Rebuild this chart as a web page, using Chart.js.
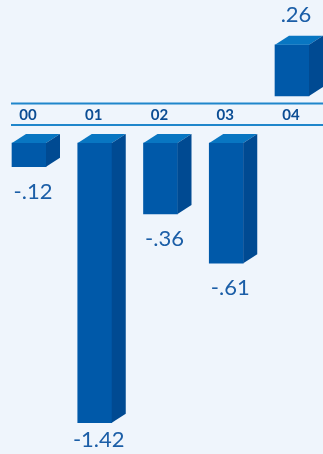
<!DOCTYPE html>
<html>
<head>
<meta charset="utf-8">
<script src="https://cdn.jsdelivr.net/npm/chart.js@4/dist/chart.umd.min.js"></script>
<style>
  html, body { margin: 0; padding: 0; background: #eff5fc; }
  canvas { display: block; }
</style>
</head>
<body>
<canvas id="chart" width="323" height="454"></canvas>
<script>
// Dados do gráfico
const categories = ['00', '01', '02', '03', '04'];
const values = [-0.12, -1.42, -0.36, -0.61, 0.26];
const valueLabels = ['-.12', '-1.42', '-.36', '-.61', '.26'];

// Separa positivos e negativos (eixo quebrado)
const positives = values.map(v => v >= 0 ? v : null);
const negatives = values.map(v => v < 0 ? v : null);

const DEPTH_X = 14;
const DEPTH_Y = 9;

// Plugin que desenha as faces 3D, as linhas e os textos
const cubePlugin = {
    id: 'cubes',
    beforeDatasetsDraw(chart) {
        const ctx = chart.ctx;
        const yPos = chart.scales.yPos;
        const yNeg = chart.scales.yNeg;
        const xs = chart.scales.x;
        const line1 = yPos.getPixelForValue(0) + 7.5;
        const line2 = yNeg.getPixelForValue(0) - 18;
        ctx.save();
        ctx.strokeStyle = '#1f86cb';
        ctx.lineWidth = 2;
        [line1, line2].forEach(y => {
            ctx.beginPath();
            ctx.moveTo(11, y);
            ctx.lineTo(chart.width, y);
            ctx.stroke();
        });
        // rótulos das categorias
        ctx.fillStyle = '#0b4d94';
        ctx.font = 'bold 15px Lato';
        ctx.textAlign = 'center';
        ctx.textBaseline = 'alphabetic';
        categories.forEach((c, i) => {
            ctx.fillText(c, xs.getPixelForValue(i) - 1, line2 - 5);
        });
        ctx.restore();
    },
    afterDatasetsDraw(chart) {
        const ctx = chart.ctx;
        ctx.save();
        chart.data.datasets.forEach((ds, di) => {
            const meta = chart.getDatasetMeta(di);
            meta.data.forEach((bar, i) => {
                if (ds.data[i] === null) return;
                const left = bar.x - bar.width / 2;
                const right = bar.x + bar.width / 2;
                const top = Math.min(bar.y, bar.base);
                const bottom = Math.max(bar.y, bar.base);
                // face de cima
                ctx.fillStyle = '#0876c2';
                ctx.beginPath();
                ctx.moveTo(left, top);
                ctx.lineTo(left + DEPTH_X, top - DEPTH_Y);
                ctx.lineTo(right + DEPTH_X, top - DEPTH_Y);
                ctx.lineTo(right, top);
                ctx.closePath();
                ctx.fill();
                // face lateral
                ctx.fillStyle = '#004a92';
                ctx.beginPath();
                ctx.moveTo(right, top);
                ctx.lineTo(right + DEPTH_X, top - DEPTH_Y);
                ctx.lineTo(right + DEPTH_X, bottom - DEPTH_Y);
                ctx.lineTo(right, bottom);
                ctx.closePath();
                ctx.fill();
                // rótulo do valor
                ctx.fillStyle = '#1b5ea7';
                ctx.font = '22px Lato';
                ctx.textAlign = 'center';
                ctx.textBaseline = 'alphabetic';
                const lx = bar.x + 4;
                if (ds.data[i] >= 0) {
                    ctx.fillText(valueLabels[i], lx, top - 23);
                } else {
                    ctx.fillText(valueLabels[i], lx, Math.min(bottom + 32, chart.height - 7));
                }
            });
        });
        ctx.restore();
    }
};

const PX_PER_UNIT = 197;
const H = 454;
const posZero = 96;
const negZero = 143;

new Chart(document.getElementById('chart'), {
    type: 'bar',
    data: {
        labels: categories,
        datasets: [{
            data: positives,
            yAxisID: 'yPos',
            backgroundColor: '#0059a9',
            barThickness: 34,
            grouped: false,
            clip: false
        }, {
            data: negatives,
            yAxisID: 'yNeg',
            backgroundColor: '#0059a9',
            barThickness: 34,
            grouped: false,
            clip: false
        }]
    },
    options: {
        responsive: false,
        animation: false,
        devicePixelRatio: 1,
        layout: { padding: { left: 29, right: 31, top: 0, bottom: 0 } },
        plugins: { legend: { display: false }, tooltip: { enabled: false } },
        scales: {
            x: { display: false, offset: false },
            yPos: {
                display: false,
                min: (posZero - H) / PX_PER_UNIT,
                max: posZero / PX_PER_UNIT
            },
            yNeg: {
                display: false,
                min: (negZero - H) / PX_PER_UNIT,
                max: negZero / PX_PER_UNIT
            }
        }
    },
    plugins: [cubePlugin]
});
</script>
</body>
</html>
